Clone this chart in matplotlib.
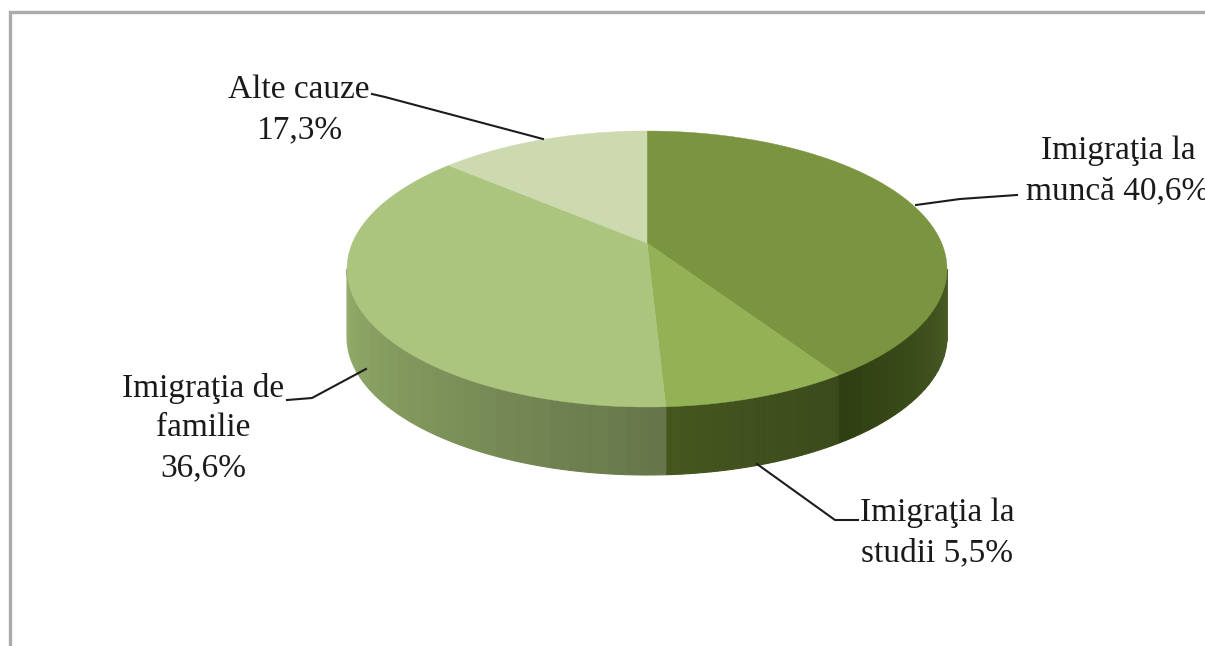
import numpy as np
import matplotlib
matplotlib.use("Agg")
import matplotlib.pyplot as plt
from matplotlib.colors import to_rgb
from matplotlib.patches import Polygon

categories = ["Imigraţia la\nmuncă ", "Imigraţia la\nstudii ", "Imigraţia de\nfamilie\n", "Alte cauze\n"]
values = [40.6, 5.5, 36.6, 17.3]
# the slices are not drawn to their printed size, these are the shares as they look
drawn_shares = [39.0, 10.0, 39.5, 11.5]
top_colors = ["#7a9440", "#93b155", "#abc47e", "#cdd9af"]
wall_from = ["#4a5c25", "#3a4a1b", "#66764a"]
wall_to = ["#2f3f12", "#46561f", "#93ad69"]

cx, cy, rx, ry = 647, 269, 300, 138
apex_y = 243
depth = 68


def ellipse_points(a_from, a_to, n=80):
    # angles in degrees, clockwise from the top
    t = np.radians(np.linspace(a_from, a_to, n))
    return cx + rx * np.sin(t), cy - ry * np.cos(t)


def blend(c1, c2, f):
    a, b = np.array(to_rgb(c1)), np.array(to_rgb(c2))
    return tuple(a + (b - a) * f)


fig = plt.figure(figsize=(12.05, 6.46), dpi=100)
ax = fig.add_axes([0, 0, 1, 1])
ax.set_xlim(0, 1205)
ax.set_ylim(646, 0)
ax.axis("off")

ax.plot([10, 10, 1205], [646, 12, 12], color="#ababab", lw=2.4, solid_joinstyle="miter")

edges = np.cumsum([0] + drawn_shares) * 3.6

# side wall, front half only
wall_spans = [(90, edges[1]), (edges[1], edges[2]), (edges[2], 270)]
for i, (a0, a1) in enumerate(wall_spans):
    steps = np.linspace(a0, a1, 26)
    for k in range(len(steps) - 1):
        x, y = ellipse_points(steps[k], steps[k + 1], 6)
        pts = np.r_[np.c_[x, y], np.c_[x[::-1], y[::-1] + depth]]
        col = blend(wall_from[i], wall_to[i], k / 24)
        ax.add_patch(Polygon(pts, fc=col, ec=col, lw=0.8, zorder=2))

# top face
for i in range(len(drawn_shares)):
    x, y = ellipse_points(edges[i], edges[i + 1])
    pts = np.r_[[[cx, apex_y]], np.c_[x, y]]
    ax.add_patch(Polygon(pts, fc=top_colors[i], ec=top_colors[i], lw=0.3, zorder=3))

# leader lines
leaders = [
    ([916, 960, 1017], [205, 199, 195]),
    ([757, 835, 858], [464, 520, 520]),
    ([366, 312, 287], [369, 398, 400]),
    ([543, 385, 372], [139, 97, 94]),
]
for lx, ly in leaders:
    ax.plot(lx, ly, color="#1c1c1c", lw=1.5, zorder=4)

label_pos = [(1118, 171), (937, 533), (203, 428), (299, 110)]
for cat, val, (tx, ty) in zip(categories, values, label_pos):
    txt = cat + f"{val:.1f}".replace(".", ",") + "%"
    ax.text(tx, ty, txt, ha="center", va="center", family="Liberation Serif",
            fontsize=24, color="#1a1a1a", linespacing=1.4, zorder=5)

fig.savefig("out.png", dpi=100)
